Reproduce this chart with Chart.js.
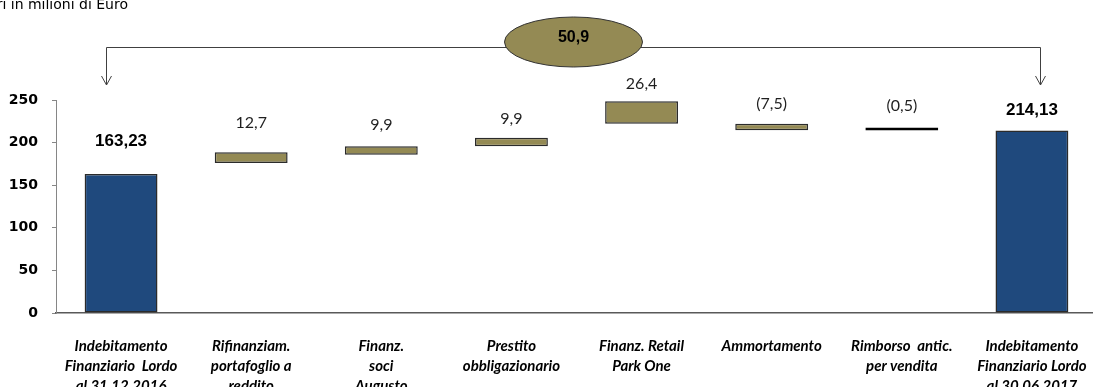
<!DOCTYPE html>
<html>
<head>
<meta charset="utf-8">
<title>Indebitamento finanziario lordo</title>
<script src="https://cdn.jsdelivr.net/npm/chart.js@4.4.1/dist/chart.umd.min.js"></script>
<style>
  html, body { margin: 0; padding: 0; background: #fff; overflow: hidden; }
  #wrap { position: relative; width: 1100px; height: 387px; }
</style>
</head>
<body>
<div id="wrap"><canvas id="debtChart" width="1100" height="387"></canvas></div>
<script>
// categorie (etichette su più righe)
const categories = [
  ['Indebitamento', 'Finanziario  Lordo', 'al 31.12.2016'],
  ['Rifinanziam.', 'portafoglio a', 'reddito'],
  ['Finanz.', 'soci', 'Augusto'],
  ['Prestito', 'obbligazionario'],
  ['Finanz. Retail', 'Park One'],
  ['Ammortamento'],
  ['Rimborso  antic.', 'per vendita'],
  ['Indebitamento', 'Finanziario Lordo', 'al 30.06.2017']
];
const openingDebt = 163.23;
const closingDebt = 214.13;
const movements = [12.7, 9.9, 9.9, 26.4, -7.5, -0.5];
const yTicks = [0, 50, 100, 150, 200, 250];

// barre flottanti: ogni variazione parte dal saldo progressivo
let running = openingDebt;
const barRanges = [[0, openingDebt]];
movements.forEach(m => {
  running += m;
  barRanges.push([running, running + Math.abs(m)]);
});
barRanges.push([0, closingDebt]);

const fmt = (v, d) => v.toFixed(d).replace('.', ',');
const barLabels = [fmt(openingDebt, 2)]
  .concat(movements.map(m => m < 0 ? '(' + fmt(-m, 1) + ')' : fmt(m, 1)))
  .concat([fmt(closingDebt, 2)]);

const BLUE = '#1F497D';
const OLIVE = '#948A54';
const last = barRanges.length - 1;
const fills = barRanges.map((r, i) => (i === 0 || i === last) ? BLUE : (i === 6 ? '#000' : OLIVE));
const borders = barRanges.map((r, i) => i === 6 ? '#000' : '#2b2b2b');

// etichette sopra le barre
const labelGap = [33, 29, 21, 19, 17, 20, 22, 20];
const valueLabels = {
  id: 'valueLabels',
  afterDatasetsDraw(chart) {
    const ctx = chart.ctx;
    const meta = chart.getDatasetMeta(0);
    ctx.save();
    ctx.textAlign = 'center';
    ctx.textBaseline = 'middle';
    meta.data.forEach((bar, i) => {
      const top = Math.min(bar.y, bar.base);
      const isTotal = i === 0 || i === last;
      ctx.font = isTotal ? 'bold 17px "Liberation Sans", Arial' : '16px Lato';
      ctx.fillStyle = isTotal ? '#000' : '#1f1f1f';
      ctx.fillText(barLabels[i], bar.x, top - labelGap[i]);
    });
    ctx.restore();
  }
};

// parentesi con frecce e ellisse della variazione totale
const bracket = {
  id: 'bracket',
  afterDraw(chart) {
    const ctx = chart.ctx;
    const xs = chart.scales.x;
    const x1 = Math.round(xs.getPixelForValue(0) - 15) + 0.5;
    const x2 = Math.round(xs.getPixelForValue(last) + 8) + 0.5;
    const yTop = 47.5, yEnd = 85;
    ctx.save();
    ctx.strokeStyle = '#404040';
    ctx.lineWidth = 1;
    ctx.beginPath();
    ctx.moveTo(x1, yEnd);
    ctx.lineTo(x1, yTop);
    ctx.lineTo(x2, yTop);
    ctx.lineTo(x2, yEnd);
    [x1, x2].forEach(x => {
      ctx.moveTo(x - 5, yEnd - 9);
      ctx.lineTo(x, yEnd);
      ctx.lineTo(x + 5, yEnd - 9);
    });
    ctx.stroke();

    const cx = (x1 + x2) / 2, cy = 42;
    ctx.beginPath();
    ctx.ellipse(cx, cy, 69, 25, 0, 0, Math.PI * 2);
    ctx.fillStyle = OLIVE;
    ctx.fill();
    ctx.strokeStyle = '#333';
    ctx.stroke();

    ctx.fillStyle = '#000';
    ctx.font = 'bold 16px "Liberation Sans", Arial';
    ctx.textAlign = 'center';
    ctx.textBaseline = 'middle';
    ctx.fillText(fmt(closingDebt - openingDebt, 1), cx, cy - 4);

    ctx.font = '14px "DejaVu Sans"';
    ctx.textAlign = 'right';
    ctx.textBaseline = 'alphabetic';
    ctx.fillText('Valori in milioni di Euro', 128, 9);
    ctx.restore();
  }
};

const ctx = document.getElementById('debtChart').getContext('2d');
const chart = new Chart(ctx, {
  type: 'bar',
  data: {
    labels: categories,
    datasets: [{
      data: barRanges,
      backgroundColor: fills,
      borderColor: borders,
      borderWidth: 1.5,
      borderSkipped: false,
      minBarLength: 3,
      barPercentage: 0.56,
      categoryPercentage: 1
    }]
  },
  options: {
    responsive: false,
    animation: false,
    layout: { padding: { top: 100, right: 3, left: 0, bottom: 0 } },
    plugins: {
      legend: { display: false },
      tooltip: { enabled: false }
    },
    scales: {
      x: {
        grid: { display: false, drawTicks: false },
        border: { color: '#595959', width: 1.5 },
        ticks: {
          autoSkip: false,
          maxRotation: 0,
          padding: 23,
          color: '#000',
          font: { family: 'Lato', size: 15, style: 'italic', weight: 'bold', lineHeight: '20px' }
        },
        afterFit(scale) {
          scale.height = 74;
          scale.paddingLeft = 0;
          scale.paddingRight = 0;
        }
      },
      y: {
        min: 0,
        max: 250,
        afterBuildTicks(scale) { scale.ticks = yTicks.map(v => ({ value: v })); },
        grid: { drawOnChartArea: false, tickLength: 4, color: '#868686' },
        border: { color: '#868686' },
        ticks: {
          padding: 14,
          color: '#000',
          font: { family: 'DejaVu Sans', size: 14, weight: 'bold' }
        },
        afterFit(scale) {
          scale.width = 56;
          scale.paddingTop = 0;
          scale.paddingBottom = 0;
        }
      }
    }
  },
  plugins: [valueLabels, bracket]
});
</script>
</body>
</html>
